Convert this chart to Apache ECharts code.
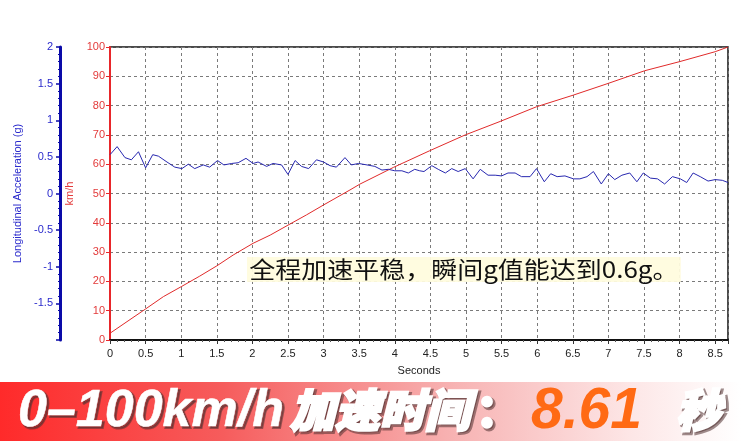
<!DOCTYPE html>
<html>
<head>
<meta charset="utf-8">
<script src="https://cdn.jsdelivr.net/npm/echarts@6/dist/echarts.min.js"></script>
<style>html,body{margin:0;padding:0;background:#fff;}#c{width:741px;height:441px;}</style>
</head>
<body>
<div id="c"></div>
<script>
// ---- data ----
const speedTime = [0, 0.5, 0.75, 1.0, 1.26, 1.5, 1.73, 2.01, 2.25, 2.5, 2.76, 3.0, 3.37, 3.51, 3.98, 4.07, 4.49, 4.99, 5.48, 5.99, 6.51, 7.0, 7.51, 8.0, 8.5, 8.68];
const speedKmh  = [2.3, 10.6, 14.8, 18.2, 21.8, 25.3, 29.0, 33.0, 35.8, 39.2, 42.7, 46.1, 51.2, 53.2, 58.9, 59.9, 64.6, 70.0, 74.6, 79.6, 83.6, 87.6, 91.9, 95.0, 98.4, 100];

const accelTime = [0, 0.10, 0.21, 0.30, 0.40, 0.50, 0.60, 0.68, 0.80, 0.91, 1.01, 1.10, 1.19, 1.31, 1.40, 1.51, 1.60, 1.71, 1.80, 1.91, 2.01, 2.08, 2.20, 2.29, 2.41, 2.50, 2.60, 2.69, 2.79, 2.90, 3.00, 3.09, 3.18, 3.30, 3.39, 3.49, 3.61, 3.72, 3.82, 3.91, 4.00, 4.10, 4.19, 4.28, 4.35, 4.41, 4.52, 4.61, 4.71, 4.80, 4.89, 4.99, 5.10, 5.20, 5.31, 5.41, 5.50, 5.59, 5.69, 5.78, 5.90, 5.99, 6.10, 6.19, 6.28, 6.39, 6.51, 6.60, 6.70, 6.79, 6.90, 7.00, 7.09, 7.19, 7.30, 7.40, 7.49, 7.59, 7.69, 7.79, 7.90, 8.01, 8.10, 8.19, 8.29, 8.40, 8.50, 8.60, 8.68];
const accelG    = [0.53, 0.64, 0.49, 0.46, 0.57, 0.35, 0.53, 0.51, 0.43, 0.36, 0.34, 0.40, 0.34, 0.39, 0.36, 0.45, 0.39, 0.41, 0.42, 0.48, 0.41, 0.43, 0.37, 0.41, 0.39, 0.26, 0.45, 0.37, 0.34, 0.46, 0.43, 0.38, 0.36, 0.49, 0.39, 0.41, 0.39, 0.37, 0.32, 0.33, 0.31, 0.31, 0.28, 0.33, 0.31, 0.30, 0.38, 0.33, 0.28, 0.34, 0.30, 0.34, 0.20, 0.33, 0.25, 0.25, 0.24, 0.28, 0.28, 0.23, 0.23, 0.34, 0.16, 0.27, 0.23, 0.24, 0.20, 0.20, 0.23, 0.30, 0.13, 0.27, 0.19, 0.25, 0.28, 0.16, 0.28, 0.21, 0.20, 0.13, 0.23, 0.20, 0.15, 0.28, 0.23, 0.17, 0.19, 0.18, 0.15];

const xMin = 0, xMax = 8.68, xStep = 0.5;
const speedMin = 0, speedMax = 100, speedStep = 10;
const gMin = -2, gMax = 2, gStep = 0.5;

const xTitle = 'Seconds';
const speedTitle = 'km/h';
const gTitle = 'Longitudinal Acceleration (g)';
const noteText = '全程加速平稳，瞬间g值能达到0.6g。';
const bannerA = '0–100km/h';
const bannerB = '加速时间';
const bannerColon = '：';
const bannerTime = '8.61';
const bannerUnit = '秒';

const speedData = speedTime.map((t, i) => [t, speedKmh[i]]);
const accelData = accelTime.map((t, i) => [t, accelG[i]]);

const chart = echarts.init(document.getElementById('c'), null, {renderer: 'canvas'});
const latin = '"Liberation Sans", Arial, sans-serif';
const cjk = '"Noto Sans CJK SC", "Liberation Sans", sans-serif';

// white banner text with a soft dark shadow layer under it
function bannerText(text, x, y, font, strokeW) {
  return [
    {type: 'text', x: x + 2, y: y + 2, z: 31,
     style: {text: text, font: font, verticalAlign: 'middle', fill: 'rgba(80,50,50,0.55)',
             stroke: 'rgba(80,50,50,0.55)', lineWidth: strokeW + 1.5,
             shadowColor: 'rgba(40,0,0,0.5)', shadowBlur: 3}},
    {type: 'text', x: x, y: y, z: 32,
     style: {text: text, font: font, verticalAlign: 'middle', fill: '#fff', stroke: '#fff', lineWidth: strokeW}}
  ];
}

chart.setOption({
  animation: false,
  backgroundColor: '#fff',
  grid: {left: 110, right: 13, top: 47, bottom: 101, show: true, borderColor: '#111', borderWidth: 1.5, backgroundColor: 'transparent'},
  xAxis: {
    type: 'value', min: xMin, max: xMax, interval: xStep,
    name: xTitle, nameLocation: 'middle', nameGap: 25,
    nameTextStyle: {color: '#222', fontSize: 11, fontFamily: latin},
    axisLine: {show: true, lineStyle: {color: '#111', width: 2}},
    axisTick: {show: true, length: 4, lineStyle: {color: '#333'}},
    minorTick: {show: true, splitNumber: 5, length: 2, lineStyle: {color: '#555'}},
    axisLabel: {color: '#222', fontSize: 11, fontFamily: latin, margin: 8, showMaxLabel: false},
    splitLine: {show: true, lineStyle: {color: '#7a7a7a', type: [3, 3], width: 1}}
  },
  yAxis: [
    {
      type: 'value', position: 'left', min: speedMin, max: speedMax, interval: speedStep,
      name: speedTitle, nameLocation: 'middle', nameGap: 34,
      nameTextStyle: {color: '#e33a3a', fontSize: 11, fontFamily: latin},
      axisLine: {show: true, lineStyle: {color: '#e8262a', width: 2}},
      axisTick: {show: true, length: 4, lineStyle: {color: '#e8262a'}},
      axisLabel: {color: '#e33a3a', fontSize: 11, fontFamily: latin, margin: 5},
      splitLine: {show: true, lineStyle: {color: '#7a7a7a', type: [3, 3], width: 1}}
    },
    {
      type: 'value', position: 'left', offset: 50, min: gMin, max: gMax, interval: gStep,
      name: gTitle, nameLocation: 'middle', nameGap: 33,
      nameTextStyle: {color: '#2a2acc', fontSize: 11, fontFamily: latin},
      axisLine: {show: true, lineStyle: {color: '#0a0aa8', width: 3}},
      axisTick: {show: true, length: 4, lineStyle: {color: '#0a0aa8', width: 1.5}},
      minorTick: {show: true, splitNumber: 5, length: 2, lineStyle: {color: '#0a0aa8'}},
      axisLabel: {color: '#2a2acc', fontSize: 11, fontFamily: latin, margin: 7, showMinLabel: false},
      splitLine: {show: false}
    }
  ],
  series: [
    {type: 'line', name: 'speed', yAxisIndex: 0, data: speedData, symbol: 'none', smooth: false,
     lineStyle: {color: '#e02a2a', width: 1}},
    {type: 'line', name: 'accel', yAxisIndex: 1, data: accelData, symbol: 'none', smooth: false,
     lineStyle: {color: '#2828b0', width: 1}}
  ],
  graphic: [
    {type: 'text', left: 247, top: 257, z: 20, scaleX: 1.13,
     style: {text: noteText, font: '23px ' + cjk, fill: '#111', backgroundColor: 'rgba(255,252,222,0.95)', padding: [1, 2]}},
    {type: 'rect', shape: {x: 0, y: 382, width: 741, height: 59}, z: 30,
     style: {fill: new echarts.graphic.LinearGradient(0, 0, 1, 0, [
       {offset: 0, color: '#ff2a2a'}, {offset: 0.3, color: '#f65c5c'}, {offset: 0.6, color: '#f7b0b0'},
       {offset: 0.85, color: '#fde6e6'}, {offset: 1, color: '#ffffff'}])}}
  ].concat(
    bannerText(bannerA, 18, 412, 'italic bold 52px ' + latin, 0.5),
    bannerText(bannerB, 290, 410, 'italic 900 45px ' + cjk, 2.5),
    bannerText(bannerColon, 476, 410, '900 44px ' + cjk, 2.5),
    [{type: 'text', x: 531, y: 412, z: 31,
      style: {text: bannerTime, font: 'italic bold 57px ' + latin, verticalAlign: 'middle', fill: '#ff6a14',
              shadowColor: 'rgba(120,40,0,0.25)', shadowBlur: 2, shadowOffsetX: 1, shadowOffsetY: 1}}],
    bannerText(bannerUnit, 676, 410, 'italic 900 45px ' + cjk, 2.5)
  )
});
</script>
</body>
</html>
